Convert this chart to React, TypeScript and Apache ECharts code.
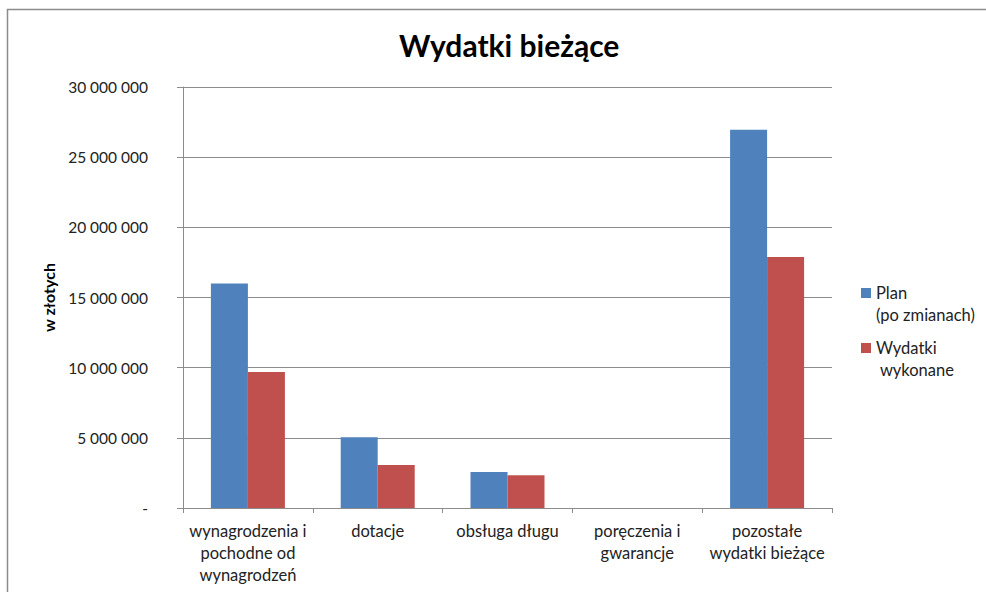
import React, { useEffect, useRef } from "react";
import * as echarts from "echarts";

const categories = [
  "wynagrodzenia i\npochodne od\nwynagrodzeń",
  "dotacje",
  "obsługa długu",
  "poręczenia i\ngwarancje",
  "pozostałe\nwydatki bieżące",
];
const seriesNames = ["Plan\n(po zmianach)", "Wydatki\n wykonane"];
const planValues = [16000000, 5050000, 2570000, 0, 26950000];
const doneValues = [9700000, 3060000, 2330000, 0, 17880000];
const seriesColors = ["#4F81BD", "#C0504D"];
const titleText = "Wydatki bieżące";
const yAxisName = "w złotych";

const FONT = "Lato, 'Open Sans', 'Noto Sans', sans-serif";

function fmt(v: number): string {
  if (v === 0) return "-";
  return String(Math.round(v)).replace(/\B(?=(\d{3})+(?!\d))/g, " ");
}

export default function App() {
  const ref = useRef<HTMLDivElement>(null);
  useEffect(() => {
    if (!ref.current) return;
    const chart = echarts.init(ref.current, undefined, { renderer: "svg" });
    const legendGraphics: any[] = [];
    seriesNames.forEach((name, i) => {
      const top = 288 + i * 55;
      legendGraphics.push({
        type: "rect",
        shape: { x: 861, y: top, width: 10, height: 10 },
        style: { fill: seriesColors[i] },
      });
      legendGraphics.push({
        type: "text",
        x: 876,
        y: top - 6,
        style: {
          text: name,
          fill: "#222",
          font: `16.5px ${FONT}`,
          lineHeight: 22,
          verticalAlign: "top",
        },
      });
    });
    chart.setOption({
      animation: false,
      backgroundColor: "#fff",
      title: {
        text: titleText,
        left: 394,
        top: 25,
        textStyle: { fontFamily: FONT, fontSize: 30, fontWeight: "bold", color: "#000" },
      },
      grid: { left: 183, right: 154, top: 87, bottom: 84 },
      xAxis: {
        type: "category",
        data: categories,
        axisLine: { lineStyle: { color: "#8c8c8c", width: 1 } },
        axisTick: { show: true, length: 5, lineStyle: { color: "#8c8c8c" } },
        axisLabel: {
          fontFamily: FONT,
          fontSize: 16.5,
          color: "#222",
          margin: 12,
          lineHeight: 22,
          interval: 0,
        },
      },
      yAxis: {
        type: "value",
        min: 0,
        max: 30000000,
        interval: 5000000,
        name: yAxisName,
        nameLocation: "middle",
        nameRotate: 90,
        nameGap: 127,
        nameTextStyle: { fontFamily: FONT, fontSize: 16, fontWeight: "bold", color: "#000" },
        axisLine: { show: true, lineStyle: { color: "#8c8c8c", width: 1 } },
        axisTick: { show: true, length: 6, lineStyle: { color: "#8c8c8c" } },
        axisLabel: {
          fontFamily: FONT,
          fontSize: 15.5,
          color: "#222",
          margin: 35,
          formatter: (v: number) => fmt(v),
        },
        splitLine: { lineStyle: { color: "#8c8c8c", width: 1 } },
      },
      series: [
        {
          name: seriesNames[0],
          type: "bar",
          data: planValues,
          barWidth: 37,
          barGap: "0%",
          itemStyle: { color: seriesColors[0] },
        },
        {
          name: seriesNames[1],
          type: "bar",
          data: doneValues,
          barWidth: 37,
          barGap: "0%",
          itemStyle: { color: seriesColors[1] },
        },
      ],
      graphic: [
        {
          type: "rect",
          shape: { x: 7.5, y: 9.5, width: 1000, height: 600 },
          style: { fill: "none", stroke: "#8c8c8c", lineWidth: 1.5 },
          silent: true,
        },
        ...legendGraphics,
      ],
    });
    return () => chart.dispose();
  }, []);
  return (
    <div
      ref={ref}
      style={{ position: "fixed", left: 0, top: 0, width: 986, height: 592 }}
    />
  );
}
